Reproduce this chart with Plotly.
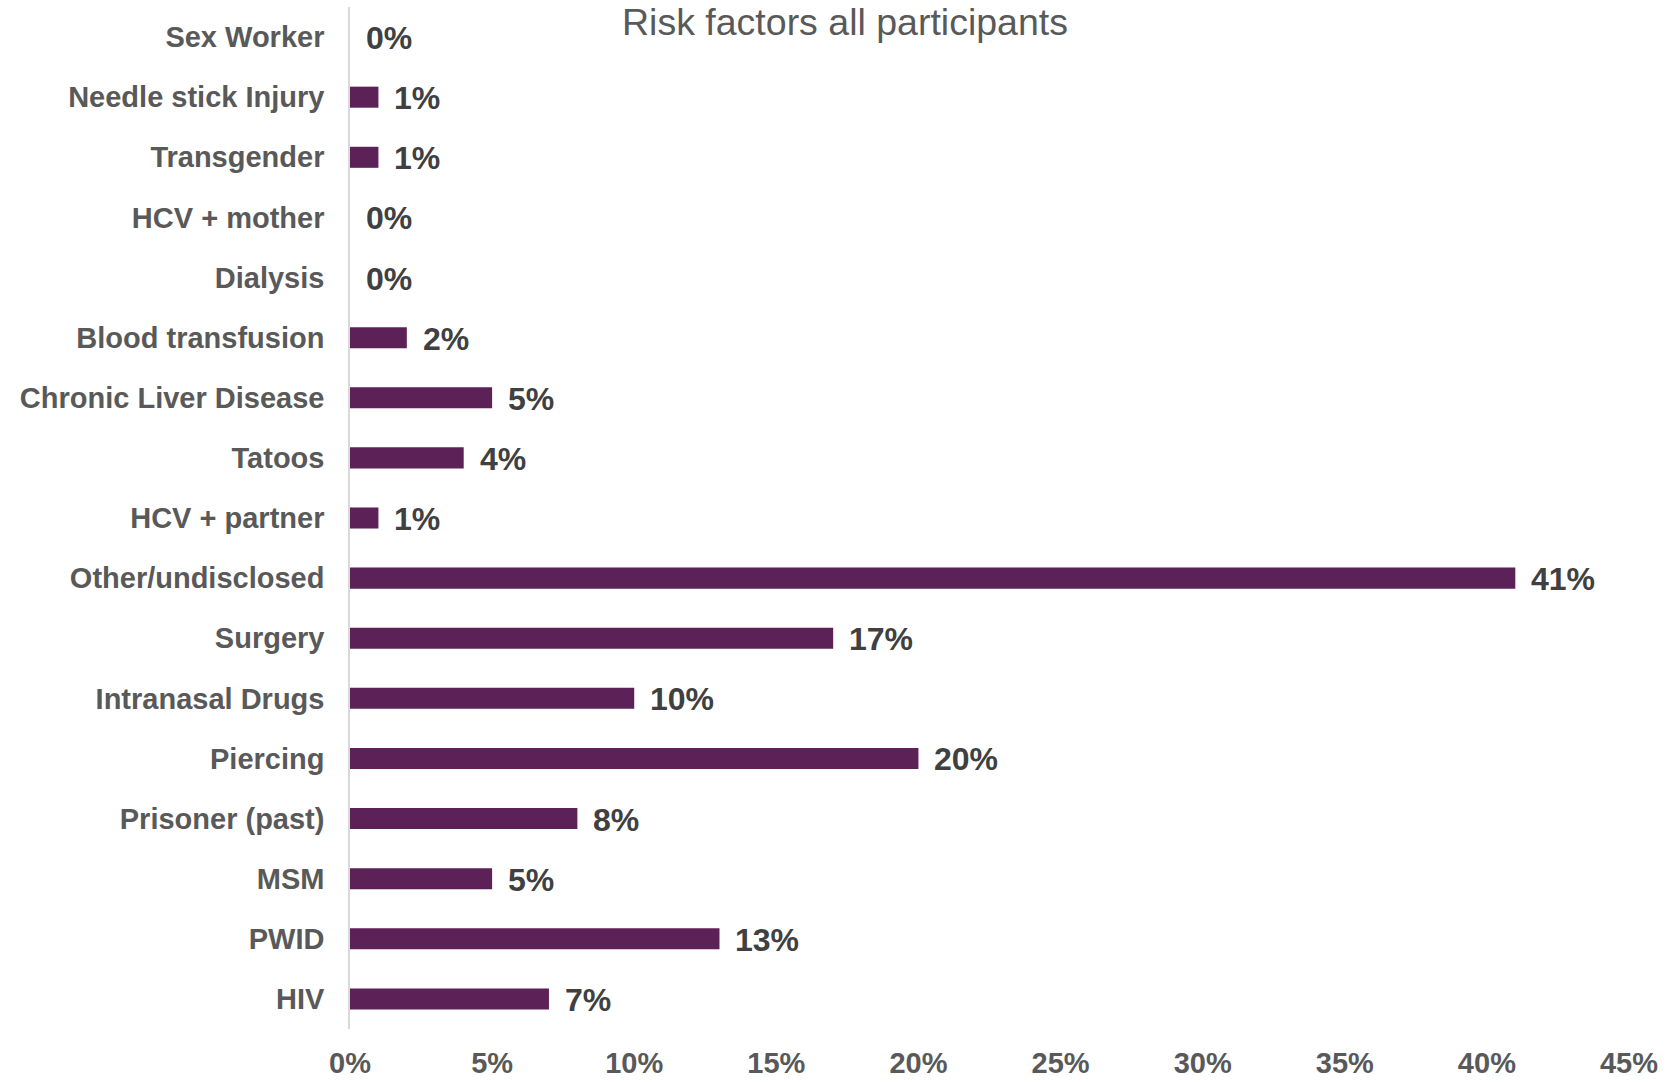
import plotly.graph_objects as go

categories = ["Sex Worker", "Needle stick Injury", "Transgender", "HCV + mother", "Dialysis",
              "Blood transfusion", "Chronic Liver Disease", "Tatoos", "HCV + partner",
              "Other/undisclosed", "Surgery", "Intranasal Drugs", "Piercing", "Prisoner (past)",
              "MSM", "PWID", "HIV"]
values = [0.0, 0.01, 0.01, 0.0, 0.0, 0.02, 0.05, 0.04, 0.01, 0.41, 0.17, 0.10, 0.20, 0.08, 0.05, 0.13, 0.07]
labels = ["0%", "1%", "1%", "0%", "0%", "2%", "5%", "4%", "1%", "41%", "17%", "10%", "20%", "8%", "5%", "13%", "7%"]
tick_vals = [0, 0.05, 0.10, 0.15, 0.20, 0.25, 0.30, 0.35, 0.40, 0.45]
tick_text = ["0%", "5%", "10%", "15%", "20%", "25%", "30%", "35%", "40%", "45%"]
title_text = "Risk factors all participants"

BAR = "#5C2157"
FONT = "Liberation Sans, Arial, sans-serif"

W, H = 1678, 1082
ML, MR, MT, MB = 350, 49, 7, 53
PW, PH = W - ML - MR, H - MT - MB

fig = go.Figure()
fig.add_trace(go.Bar(
    x=values, y=categories, orientation="h",
    marker=dict(color=BAR, line=dict(width=0)),
    width=0.35, hoverinfo="skip",
))

for c, v, t in zip(categories, values, labels):
    fig.add_annotation(x=v, y=c, text="<b>%s</b>" % t, showarrow=False,
                       xanchor="left", yanchor="middle", xshift=14, yshift=-1,
                       font=dict(family=FONT, size=32, color="#404040"))

# title placed at pixel x=845, y=22 (from top of page)
fig.add_annotation(x=(845 - ML) / PW, xref="paper", y=(H - 22 - MB) / PH, yref="paper",
                   text=title_text, showarrow=False, xanchor="center", yanchor="middle",
                   font=dict(family=FONT, size=37.5, color="#595959"))

fig.update_layout(
    width=W, height=H,
    margin=dict(l=ML, r=MR, t=MT, b=MB, pad=0),
    plot_bgcolor="white", paper_bgcolor="white",
    showlegend=False,
    xaxis=dict(range=[0, 0.45], tickvals=tick_vals, ticktext=tick_text, automargin=False,
               showgrid=False, zeroline=False, showline=False,
               ticks="", ticklabelstandoff=14,
               tickfont=dict(family=FONT, size=29, color="#595959", weight="bold")),
    yaxis=dict(categoryorder="array", categoryarray=categories[::-1], automargin=False,
               autorange=False, range=[-0.5, len(categories) - 0.5],
               showgrid=False, zeroline=False, showline=True, linecolor="#D9D9D9", linewidth=1.5,
               ticks="", ticklabelstandoff=18,
               tickfont=dict(family=FONT, size=29, color="#595959", weight="bold")),
)

fig.write_html("out.html")
